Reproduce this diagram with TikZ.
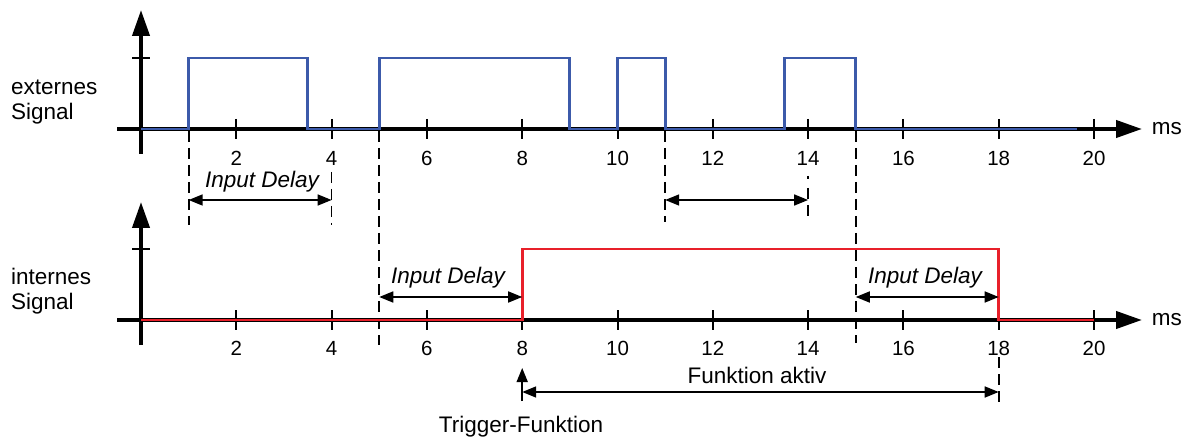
\documentclass[tikz,border=0pt]{standalone}
\usepackage{fontspec}
\setmainfont{Liberation Sans}
\usetikzlibrary{arrows.meta}
\definecolor{extblue}{RGB}{60,90,170}
\definecolor{intred}{RGB}{232,32,42}
\newcommand\tx[1]{141+47.65*(#1)}
\begin{document}
\begin{tikzpicture}[x=1pt,y=-1pt,
  axisline/.style={line width=4pt, -{Triangle[length=26pt,width=17pt]}},
  tickline/.style={line width=2pt},
  extsig/.style={line width=2.8pt, line join=miter, color=extblue},
  intsig/.style={line width=2.8pt, line join=miter, color=intred},
  dashline/.style={line width=1.7pt, dash pattern=on 11pt off 6pt},
  dimline/.style={line width=1.6pt, {Triangle[length=14pt,width=11pt]}-{Triangle[length=14pt,width=11pt]}},
  oneline/.style={line width=1.6pt, -{Triangle[length=14pt,width=11pt]}},
  lbl/.style={font=\fontsize{22.5}{25}\selectfont, inner sep=0pt},
  ticklbl/.style={font=\fontsize{20.5}{22}\selectfont, inner sep=0pt}]
\useasboundingbox (0,0) rectangle (1190,438);

% ---------- top axes ----------
\coordinate (tx0) at (117,129);
\coordinate (tx1) at (1142,129);
\coordinate (ty0) at (141,154);
\coordinate (ty1) at (141,10);
\draw[axisline] (tx0) -- (tx1);
\draw[axisline] (ty0) -- (ty1);
\draw[tickline] (132,58) -- (150,58);
\foreach \t in {2,4,...,20}{
  \draw[tickline] ({\tx{\t}},119) -- ({\tx{\t}},139);
  \node[ticklbl] (tl\t) at ({\tx{\t}},158) {\t};
}
\node[lbl, anchor=east] (msA) at (1182,129) {ms};
\node[lbl, align=left, anchor=west] (ext) at (11,102) {externes\\Signal};

% ---------- bottom axes ----------
\coordinate (bx0) at (117,320);
\coordinate (bx1) at (1142,320);
\coordinate (by0) at (141,345);
\coordinate (by1) at (141,202);
\draw[axisline] (bx0) -- (bx1);
\draw[axisline] (by0) -- (by1);
\draw[tickline] (132,249) -- (150,249);
\foreach \t in {2,4,...,20}{
  \draw[tickline] ({\tx{\t}},310) -- ({\tx{\t}},330);
  \node[ticklbl] (bl\t) at ({\tx{\t}},348) {\t};
}
\node[lbl, anchor=east] (msB) at (1182,320) {ms};
\node[lbl, align=left, anchor=west] (int) at (11,291) {internes\\Signal};

% ---------- dashed guide lines ----------
\draw[dashline] ({\tx{1}},131) -- ({\tx{1}},225);
\draw[dashline] ({\tx{4}},172) -- ({\tx{4}},225);
\draw[dashline] ({\tx{5}},131) -- ({\tx{5}},345);
\draw[dashline] ({\tx{11}},131) -- ({\tx{11}},222);
\draw[dashline] ({\tx{14}},176) -- ({\tx{14}},179);
\draw[dashline] ({\tx{14}},188) -- ({\tx{14}},218);
\draw[dashline] ({\tx{15}},131) -- ({\tx{15}},343);
\draw[dashline] ({\tx{18}},357) -- ({\tx{18}},408);

% ---------- signals ----------
\draw[extsig] (141,129) -- ({\tx{1}},129) -- ({\tx{1}},58) -- ({\tx{3.5}},58) -- ({\tx{3.5}},129)
  -- ({\tx{5}},129) -- ({\tx{5}},58) -- ({\tx{9}},58) -- ({\tx{9}},129)
  -- ({\tx{10}},129) -- ({\tx{10}},58) -- ({\tx{11}},58) -- ({\tx{11}},129)
  -- ({\tx{13.5}},129) -- ({\tx{13.5}},58) -- ({\tx{15}},58) -- ({\tx{15}},129) -- (1077,129);
\draw[intsig] (141,320) -- ({\tx{8}},320) -- ({\tx{8}},249) -- ({\tx{18}},249) -- ({\tx{18}},320) -- ({\tx{20}},320);

% ---------- dimension arrows ----------
\coordinate (d1a) at ({\tx{1}},200);
\coordinate (d1b) at ({\tx{4}},200);
\draw[dimline] (d1a) -- (d1b);
\node[lbl, font=\fontsize{22.5}{25}\selectfont\itshape] (id1) at (262,182) {Input Delay};

\coordinate (d2a) at ({\tx{11}},200);
\coordinate (d2b) at ({\tx{14}},200);
\draw[dimline] (d2a) -- (d2b);

\coordinate (d3a) at ({\tx{5}},297);
\coordinate (d3b) at ({\tx{8}},297);
\draw[dimline] (d3a) -- (d3b);
\node[lbl, font=\fontsize{22.5}{25}\selectfont\itshape] (id2) at (448,278) {Input Delay};

\coordinate (d4a) at ({\tx{15}},297);
\coordinate (d4b) at ({\tx{18}},297);
\draw[dimline] (d4a) -- (d4b);
\node[lbl, font=\fontsize{22.5}{25}\selectfont\itshape] (id3) at (925,278) {Input Delay};

\coordinate (d5a) at ({\tx{8}},392);
\coordinate (d5b) at ({\tx{18}},392);
\draw[dimline] (d5a) -- (d5b);
\node[lbl] (fa) at (757,375) {Funktion aktiv};

\coordinate (tra) at ({\tx{8}},401);
\coordinate (trb) at ({\tx{8}},368);
\draw[oneline] (tra) -- (trb);
\node[lbl] (trig) at (521,427) {Trigger-Funktion};
\end{tikzpicture}
\end{document}
